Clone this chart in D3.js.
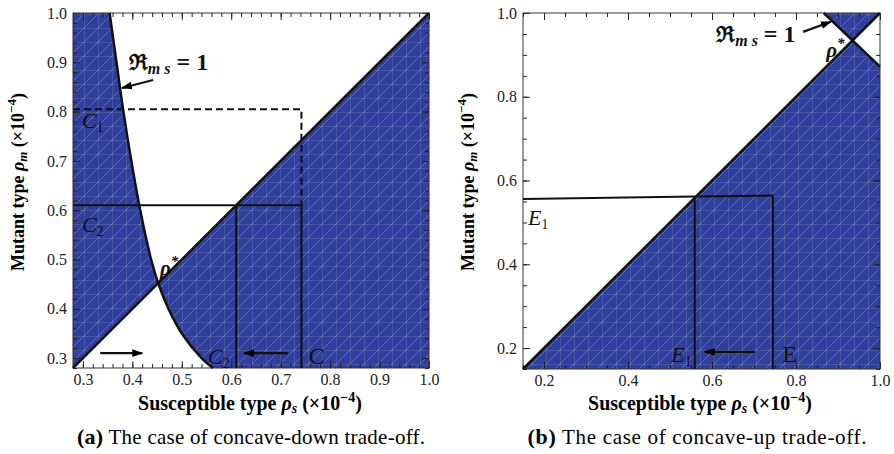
<!DOCTYPE html>
<html>
<head>
<meta charset="utf-8">
<script src="https://cdn.jsdelivr.net/npm/d3@7"></script>
<style>
body { margin: 0; background: #fff; }
text { font-family: "Liberation Serif", "DejaVu Serif", serif; }
</style>
</head>
<body>
<div id="chart"></div>
<script>
// ---- panel (a) data ----
var aMajor = [0.3, 0.4, 0.5, 0.6, 0.7, 0.8, 0.9, 1.0];
var aMinor = d3.range(0.28, 1.001, 0.02);
// R_ms = 1 curve, rho_s against rho_m
var aCurveM = [1.0, 0.9, 0.8, 0.7, 0.6, 0.5, 0.45, 0.4, 0.35, 0.3, 0.28];
var aCurveS = [0.354, 0.368, 0.382, 0.398, 0.416, 0.438, 0.453, 0.473, 0.500, 0.540, 0.563];
var aDashS = [0.28, 0.742, 0.742], aDashM = [0.805, 0.805, 0.61];
var aSolidS = [0.28, 0.742, 0.742], aSolidM = [0.61, 0.61, 0.28];
var aSolid2S = [0.61, 0.61], aSolid2M = [0.61, 0.28];

// ---- panel (b) data ----
var bMajor = [0.2, 0.4, 0.6, 0.8, 1.0];
var bMinor = d3.range(0.15, 1.001, 0.05);
var bAntiS = [0.866, 1.0], bAntiM = [1.0, 0.872];
var bLineS = [0.15, 0.559, 0.745, 0.745], bLineM = [0.556, 0.562, 0.564, 0.15];
var bLine2S = [0.559, 0.559], bLine2M = [0.562, 0.15];

var blue = "#2f3f9b";
var width = 894, height = 454;

var svg = d3.select("#chart").append("svg")
  .attr("width", width)
  .attr("height", height);

var defs = svg.append("defs");
var pat = defs.append("pattern")
  .attr("id", "mesh")
  .attr("patternUnits", "userSpaceOnUse")
  .attr("width", 14).attr("height", 14);
pat.append("rect").attr("width", 14).attr("height", 14).attr("fill", blue);
pat.append("path")
  .attr("d", "M0,0V14M0,0H14M0,14L14,0M-7,7L7,-7M7,21L21,7")
  .attr("stroke", "#fff").attr("stroke-opacity", 0.28).attr("stroke-width", 0.8)
  .attr("fill", "none");

defs.append("marker")
  .attr("id", "arrow")
  .attr("viewBox", "0 0 10 10")
  .attr("refX", 9).attr("refY", 5)
  .attr("markerWidth", 5).attr("markerHeight", 5)
  .attr("markerUnits", "strokeWidth")
  .attr("orient", "auto")
  .append("path").attr("d", "M0,1.5L10,5L0,8.5z").attr("fill", "#000");

function pts(xs, ys) {
  return xs.map(function(d, i) { return [d, ys[i]]; });
}

function panel(opt) {
  var x = d3.scaleLinear().domain(opt.dom).range([opt.x0, opt.x1]);
  var y = d3.scaleLinear().domain(opt.dom).range([opt.y1, opt.y0]);
  var g = svg.append("g");
  var line = d3.line().x(function(d) { return x(d[0]); }).y(function(d) { return y(d[1]); });

  // ticks inside the frame, all four sides
  function ticks(axis, tr, vals, size, labels) {
    var a = g.append("g").attr("transform", tr)
      .call(axis.tickValues(vals).tickSize(-size).tickPadding(6)
        .tickFormat(labels ? d3.format(".1f") : ""));
    a.select(".domain").remove();
    a.selectAll("text").attr("font-size", 16).attr("font-family", "Liberation Serif").attr("fill", "#222");
    a.selectAll("line").attr("stroke", "#222");
  }

  opt.fills(g, x, y, line);

  ticks(d3.axisBottom(x), "translate(0," + opt.y1 + ")", opt.minor, 4, false);
  ticks(d3.axisBottom(x), "translate(0," + opt.y1 + ")", opt.major, 7, true);
  ticks(d3.axisTop(x), "translate(0," + opt.y0 + ")", opt.minor, 4, false);
  ticks(d3.axisTop(x), "translate(0," + opt.y0 + ")", opt.major, 7, false);
  ticks(d3.axisLeft(y), "translate(" + opt.x0 + ",0)", opt.minor, 4, false);
  ticks(d3.axisLeft(y), "translate(" + opt.x0 + ",0)", opt.major, 7, true);
  ticks(d3.axisRight(y), "translate(" + opt.x1 + ",0)", opt.minor, 4, false);
  ticks(d3.axisRight(y), "translate(" + opt.x1 + ",0)", opt.major, 7, false);

  g.append("rect")
    .attr("x", opt.x0).attr("y", opt.y0)
    .attr("width", opt.x1 - opt.x0).attr("height", opt.y1 - opt.y0)
    .attr("fill", "none").attr("stroke", "#333").attr("stroke-width", 1);

  opt.marks(g, x, y, line);

  // axis titles
  var xl = g.append("text")
    .attr("x", opt.xlx).attr("y", 410)
    .attr("text-anchor", "middle")
    .attr("font-size", 20).attr("font-weight", "bold");
  xl.append("tspan").text("Susceptible type ");
  xl.append("tspan").attr("font-style", "italic").text("ρ");
  xl.append("tspan").attr("font-style", "italic").attr("font-size", 14).attr("dy", 3).text("s");
  xl.append("tspan").attr("dy", -3).text(" (×10");
  xl.append("tspan").attr("font-size", 14).attr("dy", -8).text("−4");
  xl.append("tspan").attr("dy", 8).text(")");

  var yl = g.append("text")
    .attr("transform", "translate(" + opt.ylx + ",182) rotate(-90)")
    .attr("text-anchor", "middle")
    .attr("font-size", 18).attr("font-weight", "bold");
  yl.append("tspan").text("Mutant type ");
  yl.append("tspan").attr("font-style", "italic").text("ρ");
  yl.append("tspan").attr("font-style", "italic").attr("font-size", 13).attr("dy", 3).text("m");
  yl.append("tspan").attr("dy", -3).text(" (×10");
  yl.append("tspan").attr("font-size", 13).attr("dy", -8).text("−4");
  yl.append("tspan").attr("dy", 8).text(")");

  var cap = g.append("text")
    .attr("x", opt.capx).attr("y", 444)
    .attr("text-anchor", "middle")
    .attr("textLength", opt.capw).attr("lengthAdjust", "spacing")
    .attr("font-size", 21).attr("font-family", "Liberation Serif");
  cap.append("tspan").attr("font-weight", "bold").attr("font-size", 22).text(opt.tag);
  cap.append("tspan").text(" " + opt.caption);
}

function label(g, x, y, s, m, txt, sub, size, italic) {
  var t = g.append("text").attr("x", x(s)).attr("y", y(m))
    .attr("font-size", size).attr("fill", "#111");
  t.append("tspan").attr("font-style", italic ? "italic" : "normal").text(txt);
  if (sub) t.append("tspan").attr("font-size", size * 0.62).attr("dy", 4).text(sub);
}

function rmsLabel(g, x, y, s, m) {
  var t = g.append("text").attr("x", x(s)).attr("y", y(m))
    .attr("font-size", 24).attr("font-weight", "bold").attr("fill", "#111");
  t.append("tspan").attr("font-family", "DejaVu Serif").attr("font-size", 22).text("ℜ");
  t.append("tspan").attr("font-style", "italic").attr("font-size", 16).attr("dy", 4).text("m s");
  t.append("tspan").attr("dy", -4).text(" = 1");
}

function rhoStar(g, x, y, s, m) {
  var t = g.append("text").attr("x", x(s)).attr("y", y(m))
    .attr("font-size", 21).attr("font-weight", "bold").attr("font-style", "italic").attr("fill", "#111");
  t.append("tspan").text("ρ");
  t.append("tspan").attr("font-size", 15).attr("dy", -9).text("*");
}

function arrow(g, line, s, m) {
  g.append("path").attr("d", line(pts(s, m)))
    .attr("stroke", "#111").attr("stroke-width", 2.2).attr("fill", "none")
    .attr("marker-end", "url(#arrow)");
}

// ---- panel (a) ----
panel({
  dom: [0.28, 1.0], x0: 73, x1: 429, y0: 13, y1: 368, ylx: 24,
  xlx: 250, capx: 251, capw: 348,
  major: aMajor, minor: aMinor,
  tag: "(a)", caption: "The case of concave-down trade-off.",
  fills: function(g, x, y, line) {
    var lo = 0.28, hi = 1.0;
    var curve = pts(aCurveS, aCurveM);
    var cPath = d3.line().x(function(d) { return x(d[0]); }).y(function(d) { return y(d[1]); })
      .curve(d3.curveCatmullRom)(curve);
    var leftPoly = cPath + "L" + x(lo) + "," + y(lo) + "L" + x(lo) + "," + y(hi) + "Z";
    var rightPoly = cPath + "L" + x(hi) + "," + y(lo) + "L" + x(hi) + "," + y(hi) + "Z";
    defs.append("clipPath").attr("id", "aAbove").append("path")
      .attr("d", line([[lo, lo], [lo, hi], [hi, hi]]) + "Z");
    defs.append("clipPath").attr("id", "aBelow").append("path")
      .attr("d", line([[lo, lo], [hi, lo], [hi, hi]]) + "Z");
    g.append("g").attr("clip-path", "url(#aAbove)")
      .append("path").attr("d", leftPoly).attr("fill", "url(#mesh)");
    g.append("g").attr("clip-path", "url(#aBelow)")
      .append("path").attr("d", rightPoly).attr("fill", "url(#mesh)");
  },
  marks: function(g, x, y, line) {
    var curve = pts(aCurveS, aCurveM);
    g.append("path").attr("d", line.curve(d3.curveCatmullRom)(curve))
      .attr("stroke", "#111").attr("stroke-width", 2.5).attr("fill", "none");
    line.curve(d3.curveLinear);
    g.append("path").attr("d", line([[0.28, 0.28], [1, 1]]))
      .attr("stroke", "#111").attr("stroke-width", 2.5).attr("fill", "none");
    g.append("path").attr("d", line(pts(aDashS, aDashM)))
      .attr("stroke", "#111").attr("stroke-width", 2).attr("stroke-dasharray", "7,4").attr("fill", "none");
    g.append("path").attr("d", line(pts(aSolidS, aSolidM)))
      .attr("stroke", "#111").attr("stroke-width", 2).attr("fill", "none");
    g.append("path").attr("d", line(pts(aSolid2S, aSolid2M)))
      .attr("stroke", "#111").attr("stroke-width", 2).attr("fill", "none");

    label(g, x, y, 0.298, 0.767, "C", "1", 22, true);
    label(g, x, y, 0.298, 0.556, "C", "2", 22, true);
    label(g, x, y, 0.553, 0.288, "C", "2", 22, true);
    label(g, x, y, 0.757, 0.288, "C", "", 24, false);
    rhoStar(g, x, y, 0.456, 0.468);
    rmsLabel(g, x, y, 0.393, 0.884);
    arrow(g, line, [0.442, 0.379], [0.864, 0.848]);
    arrow(g, line, [0.335, 0.42], [0.31, 0.31]);
    arrow(g, line, [0.715, 0.626], [0.31, 0.31]);
  }
});

// ---- panel (b) ----
panel({
  dom: [0.15, 1.0], x0: 523, x1: 880, y0: 13, y1: 369, ylx: 474,
  xlx: 700, capx: 697, capw: 339,
  major: bMajor, minor: bMinor,
  tag: "(b)", caption: "The case of concave-up trade-off.",
  fills: function(g, x, y, line) {
    var lo = 0.15, hi = 1.0;
    var anti = pts(bAntiS, bAntiM);
    defs.append("clipPath").attr("id", "bAbove").append("path")
      .attr("d", line([[lo, lo], [lo, hi], [hi, hi]]) + "Z");
    defs.append("clipPath").attr("id", "bBelow").append("path")
      .attr("d", line([[lo, lo], [hi, lo], [hi, hi]]) + "Z");
    g.append("g").attr("clip-path", "url(#bAbove)")
      .append("path").attr("d", line(anti.concat([[hi, hi]])) + "Z").attr("fill", "url(#mesh)");
    g.append("g").attr("clip-path", "url(#bBelow)")
      .append("path").attr("d", line(anti.concat([[hi, lo], [lo, lo], [lo, hi]])) + "Z").attr("fill", "url(#mesh)");
  },
  marks: function(g, x, y, line) {
    g.append("path").attr("d", line([[0.15, 0.15], [1, 1]]))
      .attr("stroke", "#111").attr("stroke-width", 2.5).attr("fill", "none");
    g.append("path").attr("d", line(pts(bAntiS, bAntiM)))
      .attr("stroke", "#111").attr("stroke-width", 2.5).attr("fill", "none");
    g.append("path").attr("d", line(pts(bLineS, bLineM)))
      .attr("stroke", "#111").attr("stroke-width", 2).attr("fill", "none");
    g.append("path").attr("d", line(pts(bLine2S, bLine2M)))
      .attr("stroke", "#111").attr("stroke-width", 2).attr("fill", "none");

    label(g, x, y, 0.162, 0.495, "E", "1", 22, true);
    label(g, x, y, 0.503, 0.167, "E", "1", 22, true);
    label(g, x, y, 0.767, 0.167, "E", "", 24, false);
    rhoStar(g, x, y, 0.872, 0.895);
    rmsLabel(g, x, y, 0.61, 0.931);
    arrow(g, line, [0.817, 0.883], [0.955, 0.979]);
    arrow(g, line, [0.702, 0.583], [0.191, 0.191]);
  }
});
</script>
</body>
</html>
